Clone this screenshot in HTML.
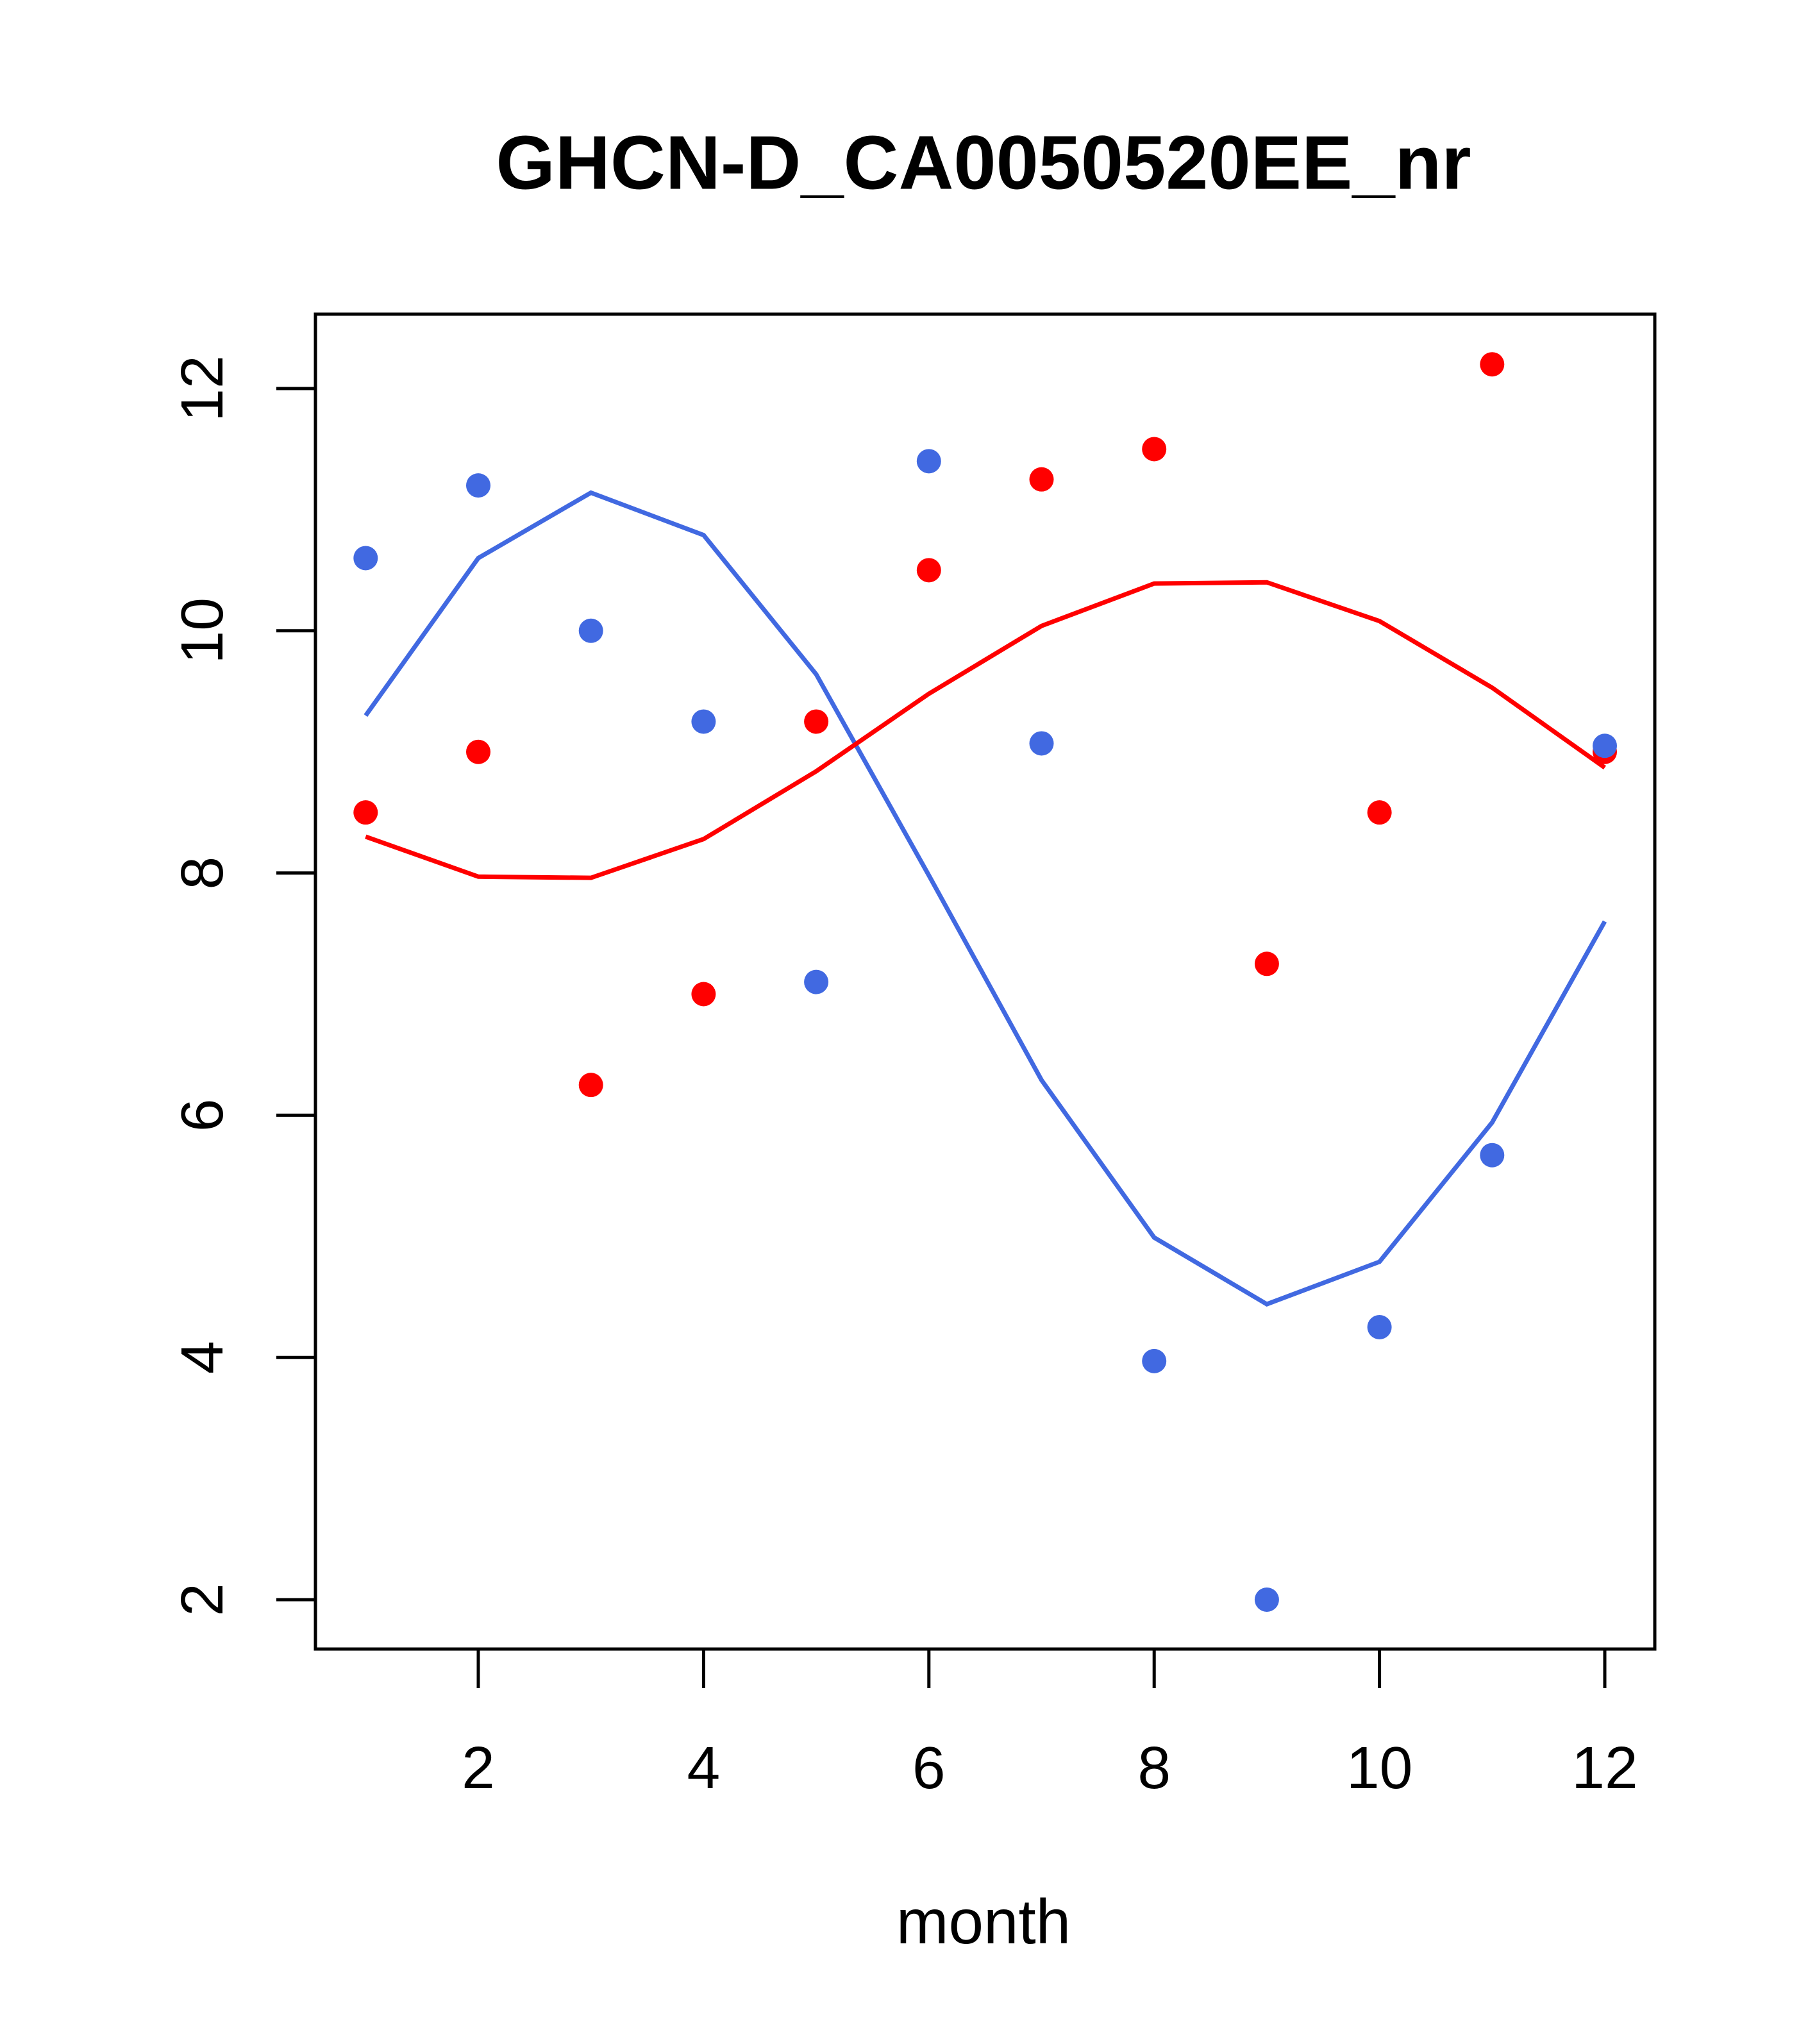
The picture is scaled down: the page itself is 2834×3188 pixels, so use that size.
<!DOCTYPE html>
<html><head><meta charset="utf-8"><style>
html,body{margin:0;padding:0;background:#fff;}
svg{display:block;font-family:"Liberation Sans",Arial,sans-serif;}
</style></head><body>
<svg id="chart" width="2834" height="3188" viewBox="0 0 2834 3188" xmlns="http://www.w3.org/2000/svg">
<rect width="2834" height="3188" fill="#fff"/>
<text x="1534" y="254" font-size="119" font-weight="bold" text-anchor="middle" dominant-baseline="central">GHCN-D_CA0050520EE_nr</text>
<rect x="492" y="490" width="2089" height="2082" fill="none" stroke="#000" stroke-width="5"/>
<text x="1534" y="2997" font-size="98" text-anchor="middle" dominant-baseline="central">month</text>
<g id="axes"></g>
<g id="marks"></g>
</svg>
<script>
const months = [1,2,3,4,5,6,7,8,9,10,11,12];
const redPoints = [8.5,9.0,6.25,7.0,9.25,10.5,11.25,11.5,7.25,8.5,12.2,9.0];
const bluePoints = [10.6,11.2,10.0,9.25,7.1,11.4,9.07,3.97,2.0,4.25,5.67,9.05];
const redLine = [8.3,7.97,7.96,8.28,8.84,9.48,10.04,10.39,10.4,10.08,9.53,8.87];
const blueLine = [9.3,10.6,11.14,10.79,9.64,7.98,6.29,4.99,4.44,4.79,5.94,7.6];
const xTicks = [2,4,6,8,10,12];
const yTicks = [2,4,6,8,10,12];

const NS = "http://www.w3.org/2000/svg";
const xs = m => 746 + (m - 2) * 175.7;
const ys = v => 2495 - (v - 2) * 188.9;
const axes = document.getElementById('axes');
const marks = document.getElementById('marks');
function mk(tag, attrs, parent){
  const e = document.createElementNS(NS, tag);
  for (const k in attrs) e.setAttribute(k, attrs[k]);
  parent.appendChild(e);
  return e;
}
xTicks.forEach(t => {
  const l = mk('line', {x1: xs(t), x2: xs(t), y1: 2572, y2: 2633, stroke: '#000', 'stroke-width': 5}, axes);
  
  
  const tx = mk('text', {x: xs(t), y: 2757, 'font-size': 93, 'text-anchor': 'middle', 'dominant-baseline': 'central'}, axes);
  tx.textContent = t;
  
  
});
yTicks.forEach(t => {
  const l = mk('line', {x1: 431, x2: 492, y1: ys(t), y2: ys(t), stroke: '#000', 'stroke-width': 5}, axes);
  
  
  const tx = mk('text', {x: 0, y: 0, 'font-size': 93, 'text-anchor': 'middle', 'dominant-baseline': 'central', transform: `translate(315,${ys(t)}) rotate(-90)`}, axes);
  tx.textContent = t;
  
  
});
function line(vals, color, name){
  const p = mk('polyline', {points: vals.map((v,i) => xs(months[i]) + ',' + ys(v)).join(' '), fill: 'none', stroke: color, 'stroke-width': 7}, marks);
  
  
}
function pts(vals, color, name){
  vals.forEach((v,i) => {
    const c = mk('circle', {cx: xs(months[i]), cy: ys(v), r: 19, fill: color}, marks);
    
    
  });
}
line(blueLine, '#4169E1', 'blue-fit-line');
line(redLine, '#FF0000', 'red-fit-line');
pts(redPoints, '#FF0000', 'red-point');
pts(bluePoints, '#4169E1', 'blue-point');
</script>
</body></html>
